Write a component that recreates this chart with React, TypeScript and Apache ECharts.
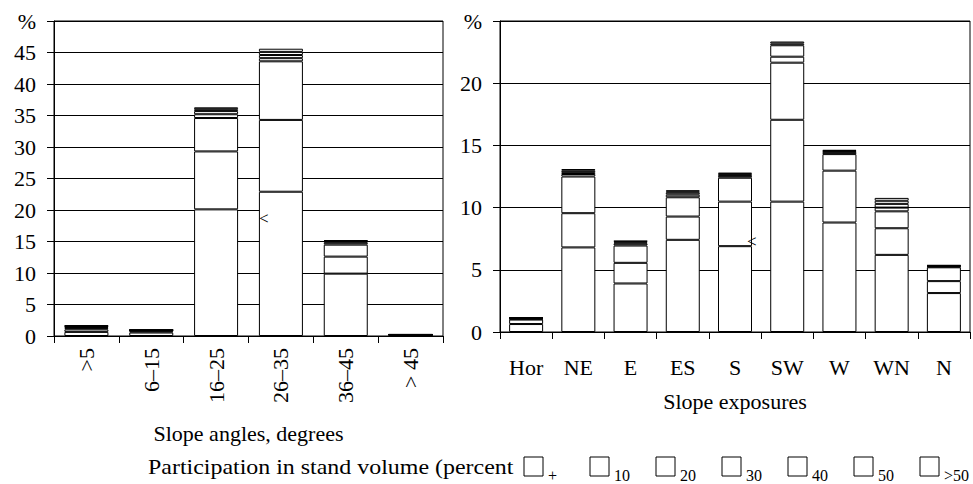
import React, { useEffect, useRef } from "react";
import * as echarts from "echarts";

const classNames = ["+", "10", "20", "30", "40", "50", ">50"];

const angleCats = [">5", "6–15", "16–25", "26–35", "36–45", "> 45"];
// one array per volume class (+,10,20,30,40,50,>50), values per slope angle category
const anglePlus = [0.65, 0.55, 20.1, 22.9, 9.9, 0.1];
const angle10 = [0.4, 0.2, 9.2, 11.4, 2.7, 0.05];
const angle20 = [0.2, 0.1, 5.3, 9.3, 1.9, 0.03];
const angle30 = [0.15, 0.05, 0.6, 0.5, 0.3, 0.02];
const angle40 = [0.1, 0.03, 0.5, 0.5, 0.2, 0.02];
const angle50 = [0.1, 0.03, 0.3, 0.5, 0.1, 0.02];
const angleOver50 = [0.1, 0.04, 0.3, 0.5, 0.1, 0.02];

const expoCats = ["Hor", "NE", "E", "ES", "S", "SW", "W", "WN", "N"];
const expoPlus = [0.64, 6.8, 3.9, 7.41, 6.9, 10.48, 8.8, 6.2, 3.13];
const expo10 = [0.36, 2.75, 1.66, 1.87, 3.58, 6.58, 4.17, 2.14, 0.96];
const expo20 = [0.05, 2.95, 1.39, 1.55, 1.92, 4.59, 1.33, 1.36, 1.11];
const expo30 = [0.05, 0.2, 0.15, 0.21, 0.15, 0.48, 0.15, 0.3, 0.05];
const expo40 = [0.02, 0.15, 0.1, 0.16, 0.1, 0.92, 0.05, 0.3, 0.05];
const expo50 = [0.02, 0.15, 0.08, 0.1, 0.07, 0.15, 0.07, 0.25, 0.04];
const expoOver50 = [0.02, 0.1, 0.05, 0.09, 0.08, 0.15, 0.06, 0.23, 0.03];

const angleRows = [anglePlus, angle10, angle20, angle30, angle40, angle50, angleOver50];
const expoRows = [expoPlus, expo10, expo20, expo30, expo40, expo50, expoOver50];

const FONT = "'Liberation Serif', 'Times New Roman', serif";

export default function App() {
  const ref = useRef<HTMLDivElement>(null);
  useEffect(() => {
    if (!ref.current) return;
    const chart = echarts.init(ref.current, null, { renderer: "svg" });
    const txt = { color: "#000", fontFamily: FONT, fontSize: 22 };
    const barStyle = { color: "#fff", borderColor: "#000", borderWidth: 1 };
    const yAxisBase = (max: number, margin: number) => ({
      type: "value",
      min: 0,
      max,
      interval: 5,
      axisLine: { show: true, lineStyle: { color: "#000" } },
      axisTick: { show: true, length: 7, lineStyle: { color: "#000" } },
      splitLine: { show: true, lineStyle: { color: "#000", width: 1 } },
      axisLabel: {
        ...txt,
        margin,
        formatter: (v: number) => (v === max ? "%" : String(v)),
      },
    });
    const series: any[] = [];
    classNames.forEach((n, i) => {
      series.push({
        name: n,
        type: "bar",
        xAxisIndex: 0,
        yAxisIndex: 0,
        stack: "angle",
        barWidth: 44,
        itemStyle: barStyle,
        data: angleRows[i],
      });
    });
    classNames.forEach((n, i) => {
      series.push({
        name: n,
        type: "bar",
        xAxisIndex: 1,
        yAxisIndex: 1,
        stack: "expo",
        barWidth: 34,
        itemStyle: barStyle,
        data: expoRows[i],
      });
    });
    const legendEls: any[] = [
      {
        type: "text",
        x: 148,
        y: 456,
        scaleX: 1.14,
        style: { text: "Participation in stand volume (percent", fill: "#000", font: `21px ${FONT}` },
      },
    ];
    classNames.forEach((n, i) => {
      const x = 524 + i * 66;
      legendEls.push({
        type: "rect",
        shape: { x, y: 457, width: 19, height: 19 },
        style: { fill: "#fff", stroke: "#000", lineWidth: 1 },
      });
      legendEls.push({
        type: "text",
        x: x + 24,
        y: 467,
        style: { text: n, fill: "#000", font: `16px ${FONT}` },
      });
    });
    legendEls.push({
      type: "text",
      x: 259,
      y: 210,
      z: 100,
      style: { text: "<", fill: "#000", font: `17px ${FONT}` },
    });
    legendEls.push({
      type: "text",
      x: 747,
      y: 233,
      z: 100,
      style: { text: "<", fill: "#000", font: `17px ${FONT}` },
    });
    chart.setOption({
      animation: false,
      backgroundColor: "#fff",
      textStyle: { fontFamily: FONT },
      grid: [
        { left: 54, right: 530, top: 21, bottom: 148, show: true, borderColor: "#000", borderWidth: 1 },
        { left: 500, right: 3, top: 21, bottom: 152, show: true, borderColor: "#000", borderWidth: 1 },
      ],
      xAxis: [
        {
          type: "category",
          gridIndex: 0,
          data: angleCats,
          axisLine: { lineStyle: { color: "#000" } },
          axisTick: { show: true, length: 7, lineStyle: { color: "#000" } },
          axisLabel: { ...txt, rotate: 90, margin: 12 },
          name: "Slope angles, degrees",
          nameLocation: "middle",
          nameGap: 86,
          nameTextStyle: { ...txt },
        },
        {
          type: "category",
          gridIndex: 1,
          data: expoCats,
          axisLine: { lineStyle: { color: "#000" } },
          axisTick: { show: true, length: 7, lineStyle: { color: "#000" } },
          axisLabel: { ...txt, margin: 24 },
          name: "Slope exposures",
          nameLocation: "middle",
          nameGap: 58,
          nameTextStyle: { ...txt },
        },
      ],
      yAxis: [
        { ...yAxisBase(50, 18), gridIndex: 0 },
        { ...yAxisBase(25, 18), gridIndex: 1 },
      ],
      series,
      graphic: legendEls,
    });
    return () => chart.dispose();
  }, []);
  return (
    <div
      ref={ref}
      style={{ position: "fixed", left: 0, top: 0, width: 973, height: 484, background: "#fff" }}
    />
  );
}
